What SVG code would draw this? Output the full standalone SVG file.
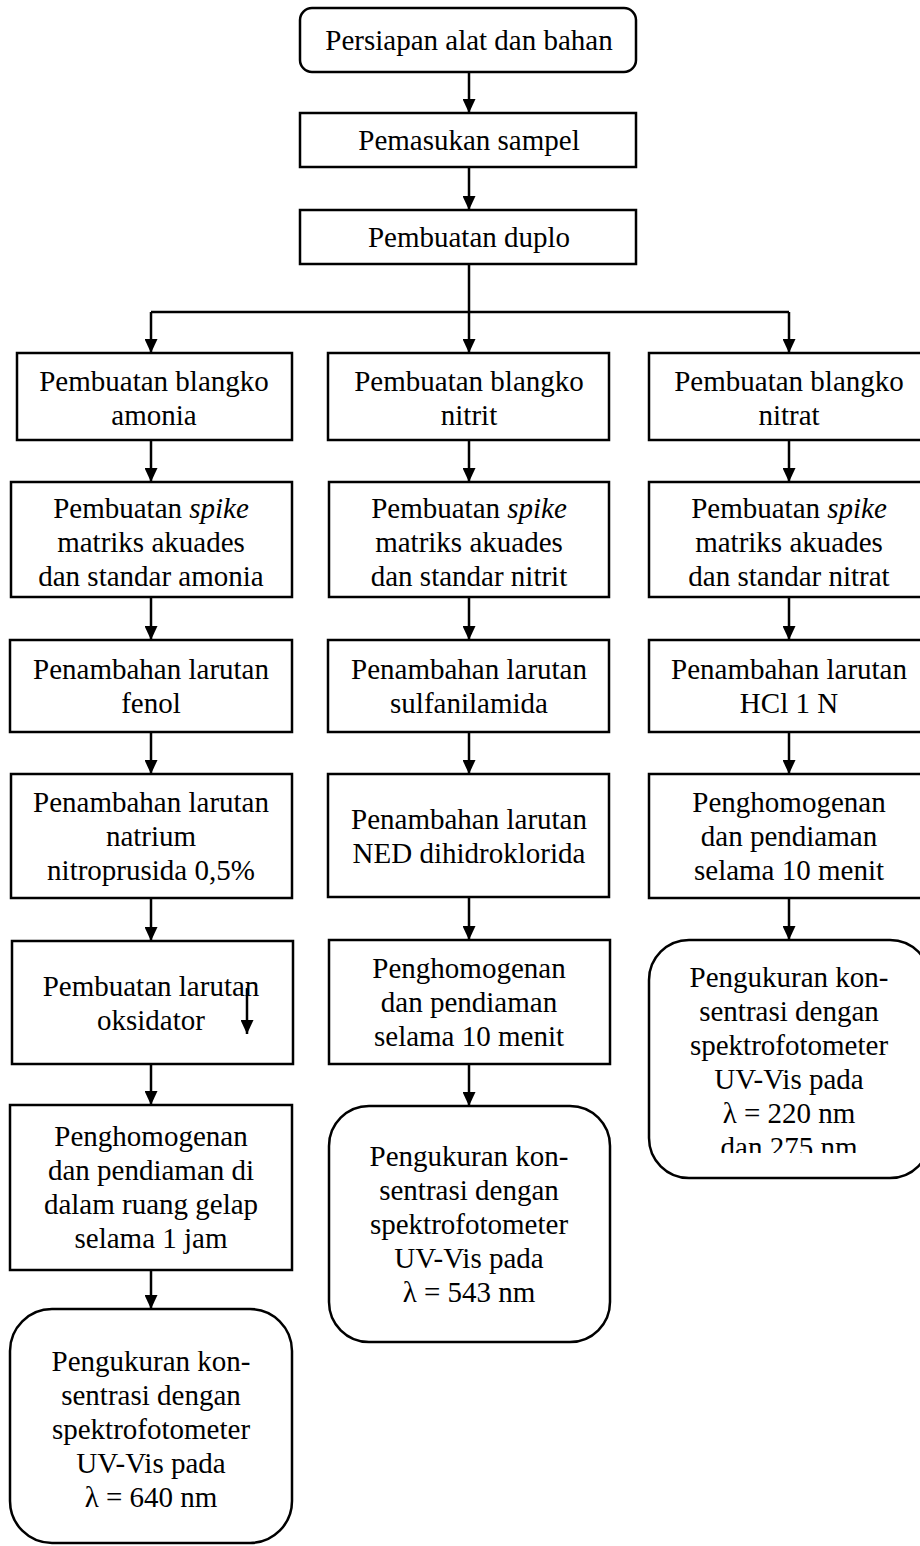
<svg xmlns="http://www.w3.org/2000/svg" width="920" height="1546" viewBox="0 0 920 1546">
<style>
.b{fill:#fff;stroke:#000;stroke-width:2.5}
.t{font-family:"Liberation Serif","Times New Roman",serif;font-size:29px;fill:#000;text-anchor:middle}
.c{fill:none;stroke:#000;stroke-width:2.5}
</style>
<defs>
<marker id="ah" viewBox="0 0 14 13" refX="14" refY="6.5" markerWidth="14" markerHeight="13" markerUnits="userSpaceOnUse" orient="auto">
<path d="M0,0 L14,6.5 L0,13 Z" fill="#000"/>
</marker>
<clipPath id="clipR"><rect x="640" y="930" width="290" height="223"/></clipPath>
</defs>
<rect width="920" height="1546" fill="#fff"/>

<g id="connectors">
<path class="c" d="M469,72 V113" marker-end="url(#ah)"/>
<path class="c" d="M469,167 V210" marker-end="url(#ah)"/>
<path class="c" d="M469,264 V312"/>
<path class="c" d="M151,312 H789"/>
<path class="c" d="M151,312 V353" marker-end="url(#ah)"/>
<path class="c" d="M469,312 V353" marker-end="url(#ah)"/>
<path class="c" d="M789,312 V353" marker-end="url(#ah)"/>
<path class="c" d="M151,440 V482" marker-end="url(#ah)"/>
<path class="c" d="M151,597 V640" marker-end="url(#ah)"/>
<path class="c" d="M151,732 V774" marker-end="url(#ah)"/>
<path class="c" d="M151,898 V941" marker-end="url(#ah)"/>
<path class="c" d="M151,1064 V1105" marker-end="url(#ah)"/>
<path class="c" d="M151,1270 V1309" marker-end="url(#ah)"/>
<path class="c" d="M469,440 V482" marker-end="url(#ah)"/>
<path class="c" d="M469,597 V640" marker-end="url(#ah)"/>
<path class="c" d="M469,732 V774" marker-end="url(#ah)"/>
<path class="c" d="M469,897 V940" marker-end="url(#ah)"/>
<path class="c" d="M469,1064 V1106" marker-end="url(#ah)"/>
<path class="c" d="M789,440 V482" marker-end="url(#ah)"/>
<path class="c" d="M789,597 V640" marker-end="url(#ah)"/>
<path class="c" d="M789,732 V774" marker-end="url(#ah)"/>
<path class="c" d="M789,898 V940" marker-end="url(#ah)"/>
</g>

<g id="n-persiapan">
<rect class="b" x="300" y="8" width="336" height="64" rx="12"/>
<text class="t" x="469" y="50">Persiapan alat dan bahan</text>
</g>
<g id="n-pemasukan">
<rect class="b" x="300" y="113" width="336" height="54"/>
<text class="t" x="469" y="150">Pemasukan sampel</text>
</g>
<g id="n-duplo">
<rect class="b" x="300" y="210" width="336" height="54"/>
<text class="t" x="469" y="247">Pembuatan duplo</text>
</g>

<!-- left column -->
<g id="n-blangko-amonia">
<rect class="b" x="17" y="353" width="275" height="87"/>
<text class="t" x="154" y="391">Pembuatan blangko</text>
<text class="t" x="154" y="425">amonia</text>
</g>
<g id="n-spike-amonia">
<rect class="b" x="11" y="482" width="281" height="115"/>
<text class="t" x="151" y="518">Pembuatan <tspan font-style="italic">spike</tspan></text>
<text class="t" x="151" y="552">matriks akuades</text>
<text class="t" x="151" y="586">dan standar amonia</text>
</g>
<g id="n-fenol">
<rect class="b" x="10" y="640" width="282" height="92"/>
<text class="t" x="151" y="679">Penambahan larutan</text>
<text class="t" x="151" y="713">fenol</text>
</g>
<g id="n-natrium">
<rect class="b" x="11" y="774" width="281" height="124"/>
<text class="t" x="151" y="812">Penambahan larutan</text>
<text class="t" x="151" y="846">natrium</text>
<text class="t" x="151" y="880">nitroprusida 0,5%</text>
</g>
<g id="n-oksidator">
<rect class="b" x="12" y="941" width="281" height="123"/>
<text class="t" x="151" y="996">Pembuatan larutan</text>
<text class="t" x="151" y="1030">oksidator</text>
<path class="c" d="M247,988 V1034" marker-end="url(#ah)"/>
</g>
<g id="n-gelap">
<rect class="b" x="10" y="1105" width="282" height="165"/>
<text class="t" x="151" y="1146">Penghomogenan</text>
<text class="t" x="151" y="1180">dan pendiaman di</text>
<text class="t" x="151" y="1214">dalam ruang gelap</text>
<text class="t" x="151" y="1248">selama 1 jam</text>
</g>
<g id="n-ukur-amonia">
<rect class="b" x="10" y="1309" width="282" height="234" rx="42"/>
<text class="t" x="151" y="1371">Pengukuran kon-</text>
<text class="t" x="151" y="1405">sentrasi dengan</text>
<text class="t" x="151" y="1439">spektrofotometer</text>
<text class="t" x="151" y="1473">UV-Vis pada</text>
<text class="t" x="151" y="1507">λ = 640 nm</text>
</g>

<!-- middle column -->
<g id="n-blangko-nitrit">
<rect class="b" x="328" y="353" width="281" height="87"/>
<text class="t" x="469" y="391">Pembuatan blangko</text>
<text class="t" x="469" y="425">nitrit</text>
</g>
<g id="n-spike-nitrit">
<rect class="b" x="329" y="482" width="280" height="115"/>
<text class="t" x="469" y="518">Pembuatan <tspan font-style="italic">spike</tspan></text>
<text class="t" x="469" y="552">matriks akuades</text>
<text class="t" x="469" y="586">dan standar nitrit</text>
</g>
<g id="n-sulfanilamida">
<rect class="b" x="328" y="640" width="281" height="92"/>
<text class="t" x="469" y="679">Penambahan larutan</text>
<text class="t" x="469" y="713">sulfanilamida</text>
</g>
<g id="n-ned">
<rect class="b" x="328" y="774" width="281" height="123"/>
<text class="t" x="469" y="829">Penambahan larutan</text>
<text class="t" x="469" y="863">NED dihidroklorida</text>
</g>
<g id="n-homogen-nitrit">
<rect class="b" x="329" y="940" width="281" height="124"/>
<text class="t" x="469" y="978">Penghomogenan</text>
<text class="t" x="469" y="1012">dan pendiaman</text>
<text class="t" x="469" y="1046">selama 10 menit</text>
</g>
<g id="n-ukur-nitrit">
<rect class="b" x="329" y="1106" width="281" height="236" rx="40"/>
<text class="t" x="469" y="1166">Pengukuran kon-</text>
<text class="t" x="469" y="1200">sentrasi dengan</text>
<text class="t" x="469" y="1234">spektrofotometer</text>
<text class="t" x="469" y="1268">UV-Vis pada</text>
<text class="t" x="469" y="1302">λ = 543 nm</text>
</g>

<!-- right column -->
<g id="n-blangko-nitrat">
<rect class="b" x="649" y="353" width="281" height="87"/>
<text class="t" x="789" y="391">Pembuatan blangko</text>
<text class="t" x="789" y="425">nitrat</text>
</g>
<g id="n-spike-nitrat">
<rect class="b" x="649" y="482" width="281" height="115"/>
<text class="t" x="789" y="518">Pembuatan <tspan font-style="italic">spike</tspan></text>
<text class="t" x="789" y="552">matriks akuades</text>
<text class="t" x="789" y="586">dan standar nitrat</text>
</g>
<g id="n-hcl">
<rect class="b" x="649" y="640" width="281" height="92"/>
<text class="t" x="789" y="679">Penambahan larutan</text>
<text class="t" x="789" y="713">HCl 1 N</text>
</g>
<g id="n-homogen-nitrat">
<rect class="b" x="649" y="774" width="281" height="124"/>
<text class="t" x="789" y="812">Penghomogenan</text>
<text class="t" x="789" y="846">dan pendiaman</text>
<text class="t" x="789" y="880">selama 10 menit</text>
</g>
<g id="n-ukur-nitrat">
<rect class="b" x="649" y="940" width="281" height="238" rx="40"/>
<g clip-path="url(#clipR)">
<text class="t" x="789" y="987">Pengukuran kon-</text>
<text class="t" x="789" y="1021">sentrasi dengan</text>
<text class="t" x="789" y="1055">spektrofotometer</text>
<text class="t" x="789" y="1089">UV-Vis pada</text>
<text class="t" x="789" y="1123">λ = 220 nm</text>
<text class="t" x="789" y="1157">dan 275 nm</text>
</g>
</g>
</svg>
